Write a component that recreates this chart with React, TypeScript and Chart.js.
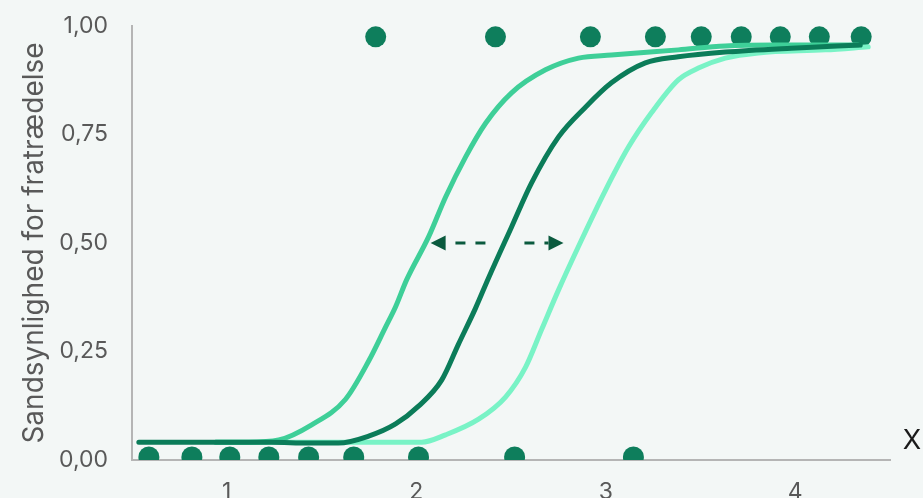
import React, { useEffect, useRef } from "react";
import { Chart, registerables } from "chart.js";

Chart.register(...registerables);

// ---- Data ----
const yTickValues = [0, 0.25, 0.5, 0.75, 1];
const yTickLabels = ["0,00", "0,25", "0,50", "0,75", "1,00"];
const xTickValues = [1, 2, 3, 4];
const xTickLabels = ["1", "2", "3", "4"];
const yTitle = "Sandsynlighed for fratrædelse";
const xTitle = "X";

// observed outcomes (0 = stays, 1 = leaves)
const bottomDotsX = [0.589, 0.816, 1.016, 1.222, 1.432, 1.67, 2.012, 2.519, 3.146];
const bottomDotsY = 0.007;
const topDotsX = [1.786, 2.418, 2.919, 3.262, 3.504, 3.715, 3.921, 4.127, 4.348];
const topDotsY = 0.975;

// middle (dark) curve
const darkX = [0.536, 0.854, 1.237, 1.432, 1.589, 1.749, 1.891, 2.012, 2.134, 2.223, 2.313, 2.382, 2.503, 2.608, 2.75, 2.893, 3.03, 3.209, 3.383, 3.631, 3.979, 4.343];
const darkY = [0.041, 0.041, 0.041, 0.039, 0.039, 0.055, 0.083, 0.124, 0.184, 0.267, 0.35, 0.42, 0.537, 0.638, 0.744, 0.813, 0.869, 0.915, 0.929, 0.94, 0.949, 0.956];

// left (medium) curve
const mediumX = [0.942, 1.116, 1.274, 1.448, 1.627, 1.749, 1.838, 1.891, 1.949, 2.065, 2.155, 2.26, 2.366, 2.503, 2.682, 2.856, 3.03, 3.383, 3.631, 3.895, 4.332];
const mediumY = [0.041, 0.041, 0.046, 0.081, 0.14, 0.228, 0.306, 0.353, 0.415, 0.514, 0.606, 0.698, 0.776, 0.846, 0.899, 0.926, 0.933, 0.945, 0.954, 0.956, 0.956];

// right (light) curve
const lightX = [0.942, 1.38, 2.028, 2.155, 2.329, 2.471, 2.577, 2.661, 2.751, 2.872, 2.999, 3.12, 3.241, 3.383, 3.489, 3.631, 3.805, 4.158, 4.385];
const lightY = [0.041, 0.041, 0.041, 0.058, 0.094, 0.145, 0.214, 0.3, 0.392, 0.507, 0.622, 0.721, 0.8, 0.876, 0.903, 0.926, 0.938, 0.945, 0.952];

// double arrow (data units)
const arrowY = 0.5;
const arrowCenterX = 2.468;
const arrowLeftTipX = 2.076;
const arrowRightTipX = 2.777;

// ---- Styles ----
const BG = "#f3f7f6";
const DARK = "#0b7c59";
const MEDIUM = "#3ecf98";
const LIGHT = "#79f3c6";
const DOT = "#0e7e5c";
const ARROW = "#0a5a3e";
const TEXT = "#595959";
const AXIS = "#b5b5b5";
const FONT = "Inter";

const zip = (xs: number[], ys: number[]) => xs.map((x, i) => ({ x, y: ys[i] }));

const bgPlugin = {
  id: "bg",
  beforeDraw(chart: any) {
    const ctx = chart.ctx;
    ctx.save();
    ctx.fillStyle = BG;
    ctx.fillRect(0, 0, chart.width, chart.height);
    ctx.restore();
  },
};

const arrowPlugin = {
  id: "arrows",
  afterDatasetsDraw(chart: any) {
    const ctx = chart.ctx;
    const xs = chart.scales.x;
    const ys = chart.scales.y;
    const y = ys.getPixelForValue(arrowY);
    const c = xs.getPixelForValue(arrowCenterX);
    const lt = xs.getPixelForValue(arrowLeftTipX);
    const rt = xs.getPixelForValue(arrowRightTipX);
    const gap = 19.5;
    const headLen = 15;
    const headHalf = 7.5;
    ctx.save();
    ctx.strokeStyle = ARROW;
    ctx.fillStyle = ARROW;
    ctx.lineWidth = 3;
    ctx.setLineDash([10, 10]);
    ctx.beginPath();
    ctx.moveTo(c - gap, y);
    ctx.lineTo(lt + headLen, y);
    ctx.stroke();
    ctx.beginPath();
    ctx.moveTo(c + gap, y);
    ctx.lineTo(rt - headLen, y);
    ctx.stroke();
    ctx.setLineDash([]);
    ctx.beginPath();
    ctx.moveTo(lt, y);
    ctx.lineTo(lt + headLen, y - headHalf);
    ctx.lineTo(lt + headLen, y + headHalf);
    ctx.closePath();
    ctx.fill();
    ctx.beginPath();
    ctx.moveTo(rt, y);
    ctx.lineTo(rt - headLen, y - headHalf);
    ctx.lineTo(rt - headLen, y + headHalf);
    ctx.closePath();
    ctx.fill();
    ctx.restore();
  },
};

const xLabelPlugin = {
  id: "xlabel",
  afterDraw(chart: any) {
    const ctx = chart.ctx;
    const a = chart.chartArea;
    ctx.save();
    ctx.font = `27px ${FONT}`;
    ctx.fillStyle = "#1a1a1a";
    ctx.textAlign = "center";
    ctx.textBaseline = "middle";
    ctx.fillText(xTitle, a.right + 22, a.bottom - 19);
    ctx.restore();
  },
};

export default function App() {
  const ref = useRef<HTMLCanvasElement>(null);
  useEffect(() => {
    document.body.style.margin = "0";
    document.body.style.background = BG;
    const line = (data: any, color: string) => ({
      type: "line" as const,
      data,
      borderColor: color,
      backgroundColor: color,
      borderWidth: 5,
      pointRadius: 0,
      fill: false,
      cubicInterpolationMode: "monotone" as const,
      borderCapStyle: "round" as const,
      borderJoinStyle: "round" as const,
    });
    const chart = new Chart(ref.current!, {
      type: "scatter",
      data: {
        datasets: [
          line(zip(darkX, darkY), DARK),
          line(zip(mediumX, mediumY), MEDIUM),
          line(zip(lightX, lightY), LIGHT),
          {
            type: "scatter",
            data: [
              ...bottomDotsX.map((x) => ({ x, y: bottomDotsY })),
              ...topDotsX.map((x) => ({ x, y: topDotsY })),
            ],
            pointRadius: 10.5,
            pointBackgroundColor: DOT,
            pointBorderWidth: 0,
            borderWidth: 0,
          } as any,
        ],
      },
      options: {
        animation: false,
        responsive: false,
        devicePixelRatio: 1,
        layout: { padding: { left: 0, top: 26, right: 33, bottom: 0 } },
        plugins: { legend: { display: false }, tooltip: { enabled: false } },
        scales: {
          x: {
            type: "linear",
            min: 0.5,
            max: 4.5,
            grid: { display: false, drawTicks: false },
            border: { display: true, color: AXIS, width: 2 },
            afterBuildTicks: (s: any) => {
              s.ticks = xTickValues.map((v) => ({ value: v }));
            },
            afterFit: (s: any) => {
              s.height = 38;
              s.paddingLeft = 0;
              s.paddingRight = 0;
            },
            ticks: {
              padding: 18,
              color: TEXT,
              font: { family: FONT, size: 23 },
              callback: (v: any) => {
                const i = xTickValues.indexOf(Number(v));
                return i >= 0 ? xTickLabels[i] : "";
              },
            },
          },
          y: {
            type: "linear",
            min: 0,
            max: 1,
            grid: { display: false, drawTicks: false },
            border: { display: true, color: AXIS, width: 2 },
            afterBuildTicks: (s: any) => {
              s.ticks = yTickValues.map((v) => ({ value: v }));
            },
            afterFit: (s: any) => {
              s.width = 132;
              s.paddingTop = 0;
              s.paddingBottom = 0;
            },
            ticks: {
              padding: 24,
              color: TEXT,
              font: { family: FONT, size: 23 },
              callback: (v: any) => {
                const i = yTickValues.indexOf(Number(v));
                return i >= 0 ? yTickLabels[i] : "";
              },
            },
            title: {
              display: true,
              text: yTitle,
              color: TEXT,
              font: { family: FONT, size: 28 },
              padding: { top: 18, bottom: 0 },
            },
          },
        },
      },
      plugins: [bgPlugin, arrowPlugin, xLabelPlugin],
    });
    return () => chart.destroy();
  }, []);
  return (
    <div style={{ position: "fixed", left: 0, top: 0, width: 923, height: 498, background: BG }}>
      <canvas ref={ref} width={923} height={498} />
    </div>
  );
}
